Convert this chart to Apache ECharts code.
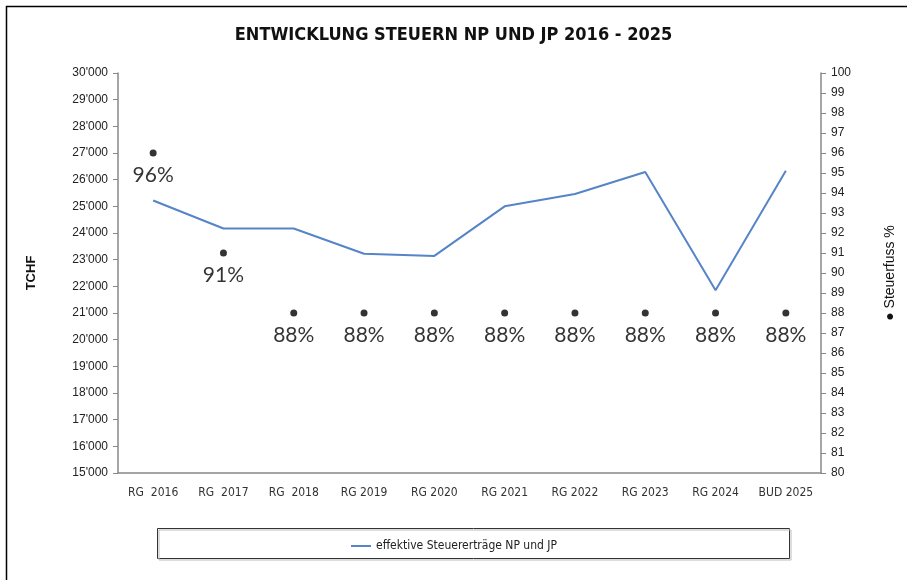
<!DOCTYPE html>
<html style="height: 100%">

<head>
    <meta charset="utf-8">
</head>

<body style="height: 100%; margin: 0; background: #fff">
    <div id="container" style="width: 907px; height: 580px"></div>

    <script type="text/javascript" src="https://cdn.jsdelivr.net/npm/echarts@6/dist/echarts.min.js"></script>

    <script type="text/javascript">

        // categories and values
        var years = ['RG  2016', 'RG  2017', 'RG  2018', 'RG 2019', 'RG 2020', 'RG 2021', 'RG 2022', 'RG 2023', 'RG 2024', 'BUD 2025'];
        var steuerertraege = [25220, 24170, 24170, 23220, 23140, 25000, 25460, 26290, 21850, 26330];
        var steuerfuss = [96, 91, 88, 88, 88, 88, 88, 88, 88, 88];

        var narrow = "'DejaVu Sans Condensed', 'Liberation Sans', sans-serif";

        var dom = document.getElementById("container");
        var myChart = echarts.init(dom);
        var option;

        option = {
            animation: false,
            title: {
                text: 'ENTWICKLUNG STEUERN NP UND JP 2016 - 2025',
                left: 'center',
                top: 21,
                textStyle: {
                    fontFamily: narrow,
                    fontSize: 18,
                    fontWeight: 'bold',
                    color: '#111'
                }
            },
            legend: {
                data: ['effektive Steuererträge NP und JP'],
                left: 'center',
                top: 535,
                itemWidth: 20,
                itemHeight: 2,
                textStyle: {
                    fontFamily: narrow,
                    fontSize: 12,
                    color: '#222'
                }
            },
            graphic: [
                {
                    type: 'rect',
                    shape: { x: 6.5, y: 6.5, width: 920, height: 600 },
                    style: { fill: 'none', stroke: '#000', lineWidth: 1.5 }
                },
                {
                    type: 'rect',
                    shape: { x: 159, y: 530, width: 632, height: 30 },
                    style: { fill: 'none', stroke: '#bbb', lineWidth: 1 }
                },
                {
                    type: 'rect',
                    shape: { x: 157.5, y: 528.5, width: 632, height: 30 },
                    style: { fill: '#fff', stroke: '#333', lineWidth: 1 },
                    z: -1
                }
            ],
            grid: {
                left: 118,
                right: 86,
                top: 73,
                bottom: 107
            },
            xAxis: {
                type: 'category',
                data: years,
                axisLine: { lineStyle: { color: '#888', width: 1.5 } },
                axisTick: { length: 5, lineStyle: { color: '#888' } },
                axisLabel: {
                    interval: 0,
                    margin: 14,
                    fontFamily: narrow,
                    fontSize: 12,
                    color: '#333'
                }
            },
            yAxis: [
                {
                    type: 'value',
                    min: 15000,
                    max: 30000,
                    interval: 1000,
                    name: 'TCHF',
                    nameLocation: 'middle',
                    nameGap: 80,
                    nameTextStyle: {
                        fontFamily: "'Liberation Sans', sans-serif",
                        fontSize: 13,
                        fontWeight: 'bold',
                        color: '#111'
                    },
                    axisLine: { show: true, lineStyle: { color: '#888', width: 1.5 } },
                    axisTick: { show: true, length: 5, lineStyle: { color: '#888' } },
                    splitLine: { show: false },
                    axisLabel: {
                        margin: 10,
                        fontFamily: "'Liberation Sans', sans-serif",
                        fontSize: 12,
                        color: '#222',
                        formatter: function (v) {
                            return String(v).replace(/\B(?=(\d{3})+(?!\d))/g, "'");
                        }
                    }
                },
                {
                    type: 'value',
                    min: 80,
                    max: 100,
                    interval: 1,
                    position: 'right',
                    name: '● Steuerfuss %',
                    nameLocation: 'middle',
                    nameRotate: 90,
                    nameGap: 62,
                    nameTextStyle: {
                        fontFamily: "'Liberation Sans', sans-serif",
                        fontSize: 14,
                        color: '#111'
                    },
                    axisLine: { show: true, lineStyle: { color: '#888', width: 1.5 } },
                    axisTick: { show: true, length: 5, lineStyle: { color: '#888' } },
                    splitLine: { show: false },
                    axisLabel: {
                        margin: 10,
                        fontFamily: "'Liberation Sans', sans-serif",
                        fontSize: 12,
                        color: '#222'
                    }
                }
            ],
            series: [
                {
                    name: 'effektive Steuererträge NP und JP',
                    type: 'line',
                    data: steuerertraege,
                    showSymbol: false,
                    symbol: 'none',
                    lineStyle: { color: '#5584c8', width: 2 },
                    itemStyle: { color: '#5584c8' }
                },
                {
                    name: 'Steuerfuss',
                    type: 'scatter',
                    yAxisIndex: 1,
                    data: steuerfuss,
                    symbolSize: 7,
                    itemStyle: { color: '#000' },
                    label: {
                        show: true,
                        position: 'bottom',
                        distance: 8,
                        formatter: '{c}%',
                        fontFamily: "Lato, 'Open Sans', sans-serif",
                        fontSize: 21,
                        color: '#000'
                    }
                }
            ]
        };

        if (option && typeof option === 'object') {
            myChart.setOption(option);
        }

    </script>
</body>

</html>
